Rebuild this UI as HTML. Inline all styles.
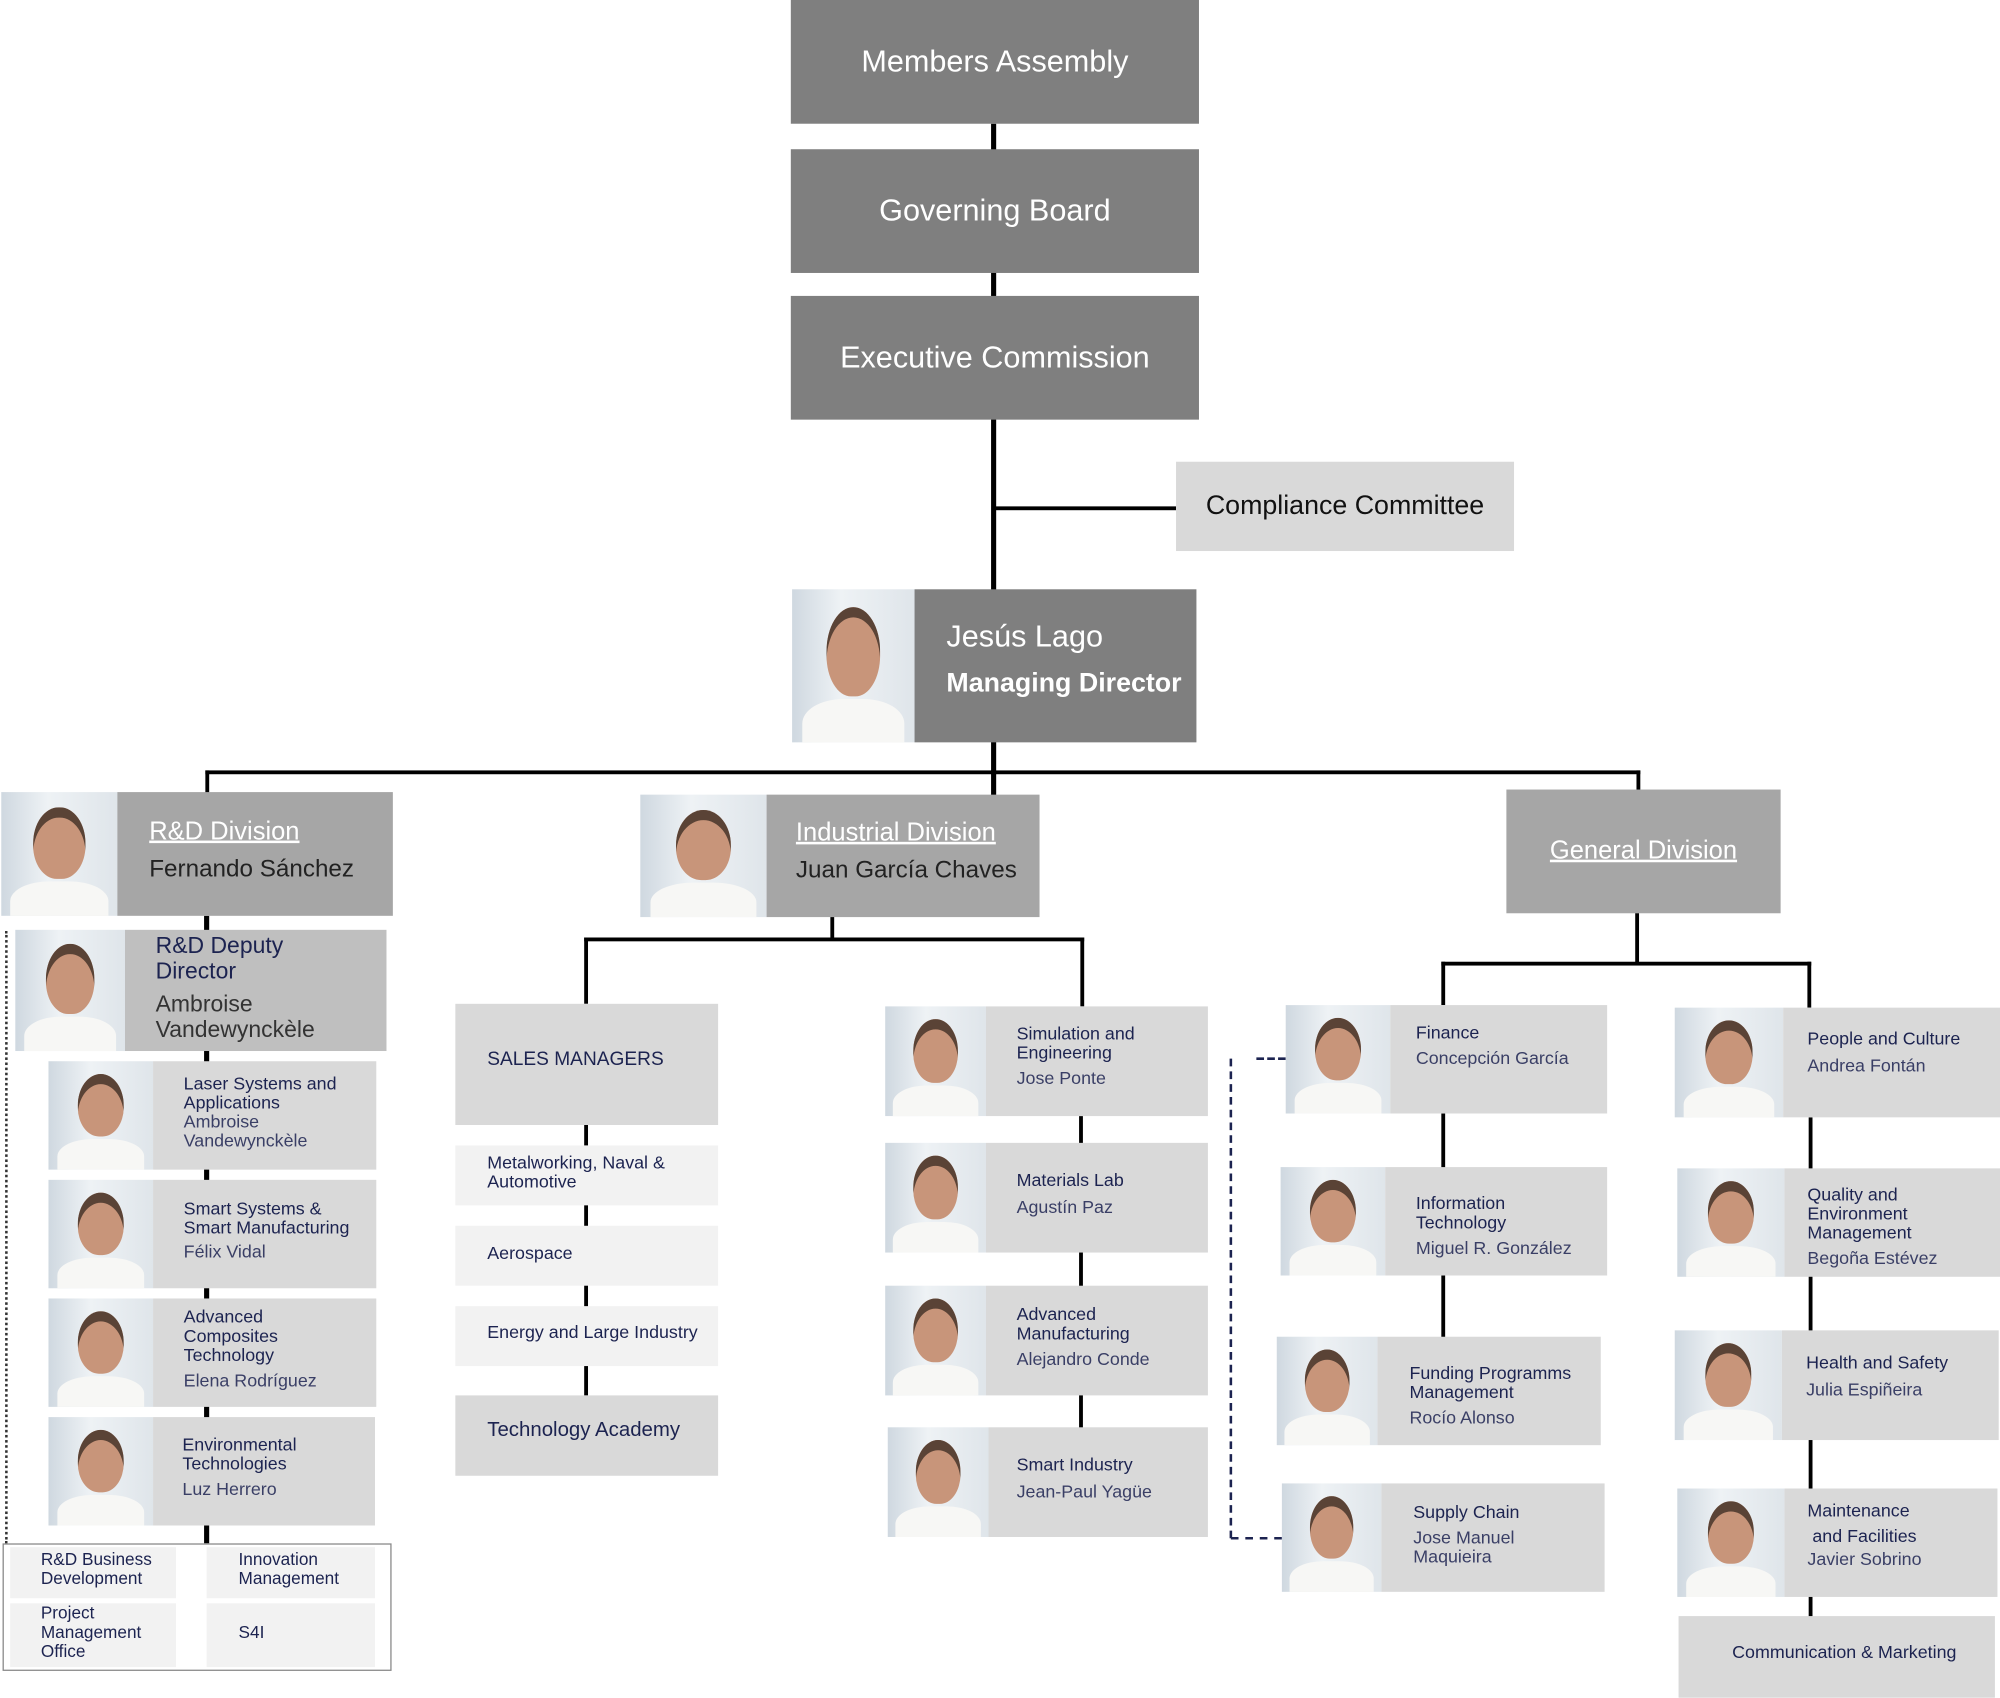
<!DOCTYPE html>
<html><head><meta charset="utf-8"><style>
html,body{margin:0;padding:0;background:#fff;}
#wrap{position:relative;width:1568px;height:1331px;transform:scale(1.27551);transform-origin:0 0;font-family:"Liberation Sans",sans-serif;}
.a{position:absolute;box-sizing:border-box;}
.ln{position:absolute;background:#000;}
.dk{background:#7f7f7f;color:#fff;font-size:24px;display:flex;align-items:center;justify-content:center;}
.g1{background:#a6a6a6;}
.g2{background:#bfbfbf;}
.g3{background:#d9d9d9;}
.g4{background:#f2f2f2;}
.t{position:absolute;color:#1c2350;font-size:14px;line-height:15px;white-space:nowrap;}
.n{color:#3a3f66;}
.ph{position:absolute;overflow:hidden;background:linear-gradient(90deg,#cfd8e0,#eef2f5 40%,#dfe5ea);}
.ph .hd{position:absolute;left:28%;top:12%;width:44%;height:58%;border-radius:50% 50% 46% 46%;background:#c8957a;box-shadow:inset 0 8px 0 #5a4336;}
.ph .bd{position:absolute;left:8%;top:72%;width:84%;height:40%;border-radius:40% 40% 0 0;background:#f7f7f5;}
u{text-decoration:underline;}
</style></head><body><div id="wrap">

<!-- top chain -->
<div class="ln" style="left:777px;top:97px;width:4px;height:510px"></div>
<div class="a dk" style="left:620px;top:0;width:320px;height:97px">Members Assembly</div>
<div class="a dk" style="left:620px;top:117px;width:320px;height:97px">Governing Board</div>
<div class="a dk" style="left:620px;top:232px;width:320px;height:97px">Executive Commission</div>
<div class="ln" style="left:779px;top:397px;width:143px;height:3px"></div>
<div class="a g3" style="left:922px;top:362px;width:265px;height:70px;display:flex;align-items:center;justify-content:center;font-size:21px;color:#111">Compliance Committee</div>

<!-- MD -->
<div class="ph" style="left:621px;top:462px;width:96px;height:120px"><div class="hd"></div><div class="bd"></div></div>
<div class="a" style="left:717px;top:462px;width:221px;height:120px;background:#7f7f7f"></div>
<div class="t" style="left:742px;top:486px;color:#fff;font-size:24px;line-height:28px">Jesús Lago</div>
<div class="t" style="left:742px;top:523px;color:#fff;font-size:21px;line-height:26px;font-weight:bold">Managing Director</div>

<!-- main horizontal -->
<div class="ln" style="left:161px;top:604px;width:1125px;height:3px"></div>
<div class="ln" style="left:161px;top:604px;width:3px;height:18px"></div>
<div class="ln" style="left:1283px;top:604px;width:3px;height:16px"></div>
<div class="ln" style="left:777px;top:604px;width:4px;height:20px"></div>

<!-- R&D -->
<div class="ln" style="left:160px;top:718px;width:4px;height:492px"></div>
<div style="position:absolute;left:4px;top:730px;height:480px;border-left:2px dotted #333"></div>
<div class="ph" style="left:1px;top:621px;width:91px;height:97px"><div class="hd"></div><div class="bd"></div></div>
<div class="a g1" style="left:92px;top:621px;width:216px;height:97px"></div>
<div class="t" style="left:117px;top:640px;color:#fff;font-size:20px;line-height:24px"><u>R&amp;D Division</u></div>
<div class="t" style="left:117px;top:670px;color:#222;font-size:19px;line-height:24px">Fernando Sánchez</div>

<div class="ph" style="left:12px;top:729px;width:86px;height:95px"><div class="hd"></div><div class="bd"></div></div>
<div class="a g2" style="left:98px;top:729px;width:205px;height:95px"></div>
<div class="t" style="left:122px;top:731px;font-size:18px;line-height:20px">R&amp;D Deputy<br>Director</div>
<div class="t" style="left:122px;top:777px;font-size:18px;line-height:20px;color:#333">Ambroise<br>Vandewynckèle</div>

<div class="ph" style="left:38px;top:832px;width:82px;height:85px"><div class="hd"></div><div class="bd"></div></div>
<div class="a g3" style="left:120px;top:832px;width:175px;height:85px"></div>
<div class="t" style="left:144px;top:842px">Laser Systems and<br>Applications<br><span class="n">Ambroise<br>Vandewynckèle</span></div>

<div class="ph" style="left:38px;top:925px;width:82px;height:85px"><div class="hd"></div><div class="bd"></div></div>
<div class="a g3" style="left:120px;top:925px;width:175px;height:85px"></div>
<div class="t" style="left:144px;top:940px">Smart Systems &amp;<br>Smart Manufacturing</div>
<div class="t n" style="left:144px;top:974px">Félix Vidal</div>

<div class="ph" style="left:38px;top:1018px;width:82px;height:85px"><div class="hd"></div><div class="bd"></div></div>
<div class="a g3" style="left:120px;top:1018px;width:175px;height:85px"></div>
<div class="t" style="left:144px;top:1025px">Advanced<br>Composites<br>Technology</div>
<div class="t n" style="left:144px;top:1075px">Elena Rodríguez</div>

<div class="ph" style="left:38px;top:1111px;width:82px;height:85px"><div class="hd"></div><div class="bd"></div></div>
<div class="a g3" style="left:120px;top:1111px;width:174px;height:85px"></div>
<div class="t" style="left:143px;top:1125px">Environmental<br>Technologies</div>
<div class="t n" style="left:143px;top:1160px">Luz Herrero</div>

<div class="a" style="left:2px;top:1210px;width:305px;height:100px;border:1.5px solid #888;background:#fff"></div>
<div class="a g4" style="left:8px;top:1213px;width:130px;height:40px"></div>
<div class="a g4" style="left:162px;top:1213px;width:132px;height:40px"></div>
<div class="a g4" style="left:8px;top:1257px;width:130px;height:50px"></div>
<div class="a g4" style="left:162px;top:1257px;width:132px;height:50px"></div>
<div class="t" style="left:32px;top:1215px;font-size:13.5px">R&amp;D Business<br>Development</div>
<div class="t" style="left:187px;top:1215px;font-size:13.5px">Innovation<br>Management</div>
<div class="t" style="left:32px;top:1257px;font-size:13.5px">Project<br>Management<br>Office</div>
<div class="t" style="left:187px;top:1272px;font-size:13.5px">S4I</div>

<!-- Industrial -->
<div class="ph" style="left:502px;top:623px;width:99px;height:96px"><div class="hd"></div><div class="bd"></div></div>
<div class="a g1" style="left:601px;top:623px;width:214px;height:96px"></div>
<div class="t" style="left:624px;top:641px;color:#fff;font-size:20px;line-height:24px"><u>Industrial Division</u></div>
<div class="t" style="left:624px;top:671px;color:#222;font-size:19px;line-height:24px">Juan García Chaves</div>
<div class="ln" style="left:651px;top:719px;width:3px;height:18px"></div>
<div class="ln" style="left:458px;top:735px;width:392px;height:3px"></div>
<div class="ln" style="left:458px;top:735px;width:3px;height:52px"></div>
<div class="ln" style="left:847px;top:735px;width:3px;height:54px"></div>

<div class="ln" style="left:458px;top:882px;width:3px;height:212px"></div>
<div class="a g3" style="left:357px;top:787px;width:206px;height:95px"></div>
<div class="t" style="left:382px;top:822px;font-size:15px;line-height:17px">SALES MANAGERS</div>
<div class="a g4" style="left:357px;top:898px;width:206px;height:47px"></div>
<div class="t" style="left:382px;top:904px">Metalworking, Naval &amp;<br>Automotive</div>
<div class="a g4" style="left:357px;top:961px;width:206px;height:47px"></div>
<div class="t" style="left:382px;top:975px">Aerospace</div>
<div class="a g4" style="left:357px;top:1024px;width:206px;height:47px"></div>
<div class="t" style="left:382px;top:1037px">Energy and Large Industry</div>
<div class="a g3" style="left:357px;top:1094px;width:206px;height:63px"></div>
<div class="t" style="left:382px;top:1113px;font-size:16px;line-height:18px">Technology Academy</div>

<div class="ln" style="left:846px;top:875px;width:3px;height:245px"></div>
<div class="ph" style="left:694px;top:789px;width:79px;height:86px"><div class="hd"></div><div class="bd"></div></div>
<div class="a g3" style="left:773px;top:789px;width:174px;height:86px"></div>
<div class="t" style="left:797px;top:803px">Simulation and<br>Engineering</div>
<div class="t n" style="left:797px;top:838px">Jose Ponte</div>
<div class="ph" style="left:694px;top:896px;width:79px;height:86px"><div class="hd"></div><div class="bd"></div></div>
<div class="a g3" style="left:773px;top:896px;width:174px;height:86px"></div>
<div class="t" style="left:797px;top:918px">Materials Lab</div>
<div class="t n" style="left:797px;top:939px">Agustín Paz</div>
<div class="ph" style="left:694px;top:1008px;width:79px;height:86px"><div class="hd"></div><div class="bd"></div></div>
<div class="a g3" style="left:773px;top:1008px;width:174px;height:86px"></div>
<div class="t" style="left:797px;top:1023px">Advanced<br>Manufacturing</div>
<div class="t n" style="left:797px;top:1058px">Alejandro Conde</div>
<div class="ph" style="left:696px;top:1119px;width:79px;height:86px"><div class="hd"></div><div class="bd"></div></div>
<div class="a g3" style="left:775px;top:1119px;width:172px;height:86px"></div>
<div class="t" style="left:797px;top:1141px">Smart Industry</div>
<div class="t n" style="left:797px;top:1162px">Jean-Paul Yagüe</div>

<!-- General -->
<div class="a g1" style="left:1181px;top:619px;width:215px;height:97px;display:flex;align-items:center;justify-content:center;color:#fff;font-size:20px"><u>General Division</u></div>
<div class="ln" style="left:1282px;top:716px;width:3px;height:39px"></div>
<div class="ln" style="left:1130px;top:754px;width:290px;height:3px"></div>
<div class="ln" style="left:1130px;top:754px;width:3px;height:34px"></div>
<div class="ln" style="left:1417px;top:754px;width:3px;height:36px"></div>

<div class="ln" style="left:1130px;top:873px;width:3px;height:178px"></div>
<div style="position:absolute;left:964px;top:830px;height:376px;border-left:2px dashed #1c2350"></div>
<div style="position:absolute;left:985px;top:829px;width:23px;border-top:2px dashed #1c2350"></div>
<div style="position:absolute;left:965px;top:1205px;width:40px;border-top:2px dashed #1c2350"></div>

<div class="ph" style="left:1008px;top:788px;width:82px;height:85px"><div class="hd"></div><div class="bd"></div></div>
<div class="a g3" style="left:1090px;top:788px;width:170px;height:85px"></div>
<div class="t" style="left:1110px;top:802px">Finance</div>
<div class="t n" style="left:1110px;top:822px">Concepción García</div>
<div class="ph" style="left:1004px;top:915px;width:82px;height:85px"><div class="hd"></div><div class="bd"></div></div>
<div class="a g3" style="left:1086px;top:915px;width:174px;height:85px"></div>
<div class="t" style="left:1110px;top:936px">Information<br>Technology</div>
<div class="t n" style="left:1110px;top:971px">Miguel R. González</div>
<div class="ph" style="left:1001px;top:1048px;width:79px;height:85px"><div class="hd"></div><div class="bd"></div></div>
<div class="a g3" style="left:1080px;top:1048px;width:175px;height:85px"></div>
<div class="t" style="left:1105px;top:1069px">Funding Programms<br>Management</div>
<div class="t n" style="left:1105px;top:1104px">Rocío Alonso</div>
<div class="ph" style="left:1005px;top:1163px;width:78px;height:85px"><div class="hd"></div><div class="bd"></div></div>
<div class="a g3" style="left:1083px;top:1163px;width:175px;height:85px"></div>
<div class="t" style="left:1108px;top:1178px">Supply Chain</div>
<div class="t n" style="left:1108px;top:1198px">Jose Manuel<br>Maquieira</div>

<div class="ln" style="left:1418px;top:876px;width:3px;height:392px"></div>
<div class="ph" style="left:1313px;top:790px;width:85px;height:86px"><div class="hd"></div><div class="bd"></div></div>
<div class="a g3" style="left:1398px;top:790px;width:170px;height:86px"></div>
<div class="t" style="left:1417px;top:807px">People and Culture</div>
<div class="t n" style="left:1417px;top:828px">Andrea Fontán</div>
<div class="ph" style="left:1315px;top:916px;width:84px;height:85px"><div class="hd"></div><div class="bd"></div></div>
<div class="a g3" style="left:1399px;top:916px;width:169px;height:85px"></div>
<div class="t" style="left:1417px;top:929px">Quality and<br>Environment<br>Management</div>
<div class="t n" style="left:1417px;top:979px">Begoña Estévez</div>
<div class="ph" style="left:1313px;top:1043px;width:84px;height:86px"><div class="hd"></div><div class="bd"></div></div>
<div class="a g3" style="left:1397px;top:1043px;width:170px;height:86px"></div>
<div class="t" style="left:1416px;top:1061px">Health and Safety</div>
<div class="t n" style="left:1416px;top:1082px">Julia Espiñeira</div>
<div class="ph" style="left:1315px;top:1167px;width:84px;height:85px"><div class="hd"></div><div class="bd"></div></div>
<div class="a g3" style="left:1399px;top:1167px;width:167px;height:85px"></div>
<div class="t" style="left:1417px;top:1174px;line-height:20px">Maintenance<br>&nbsp;and Facilities</div>
<div class="t n" style="left:1417px;top:1215px">Javier Sobrino</div>
<div class="a g3" style="left:1316px;top:1267px;width:248px;height:64px"></div>
<div class="t" style="left:1358px;top:1288px">Communication &amp; Marketing</div>

</div></body></html>
